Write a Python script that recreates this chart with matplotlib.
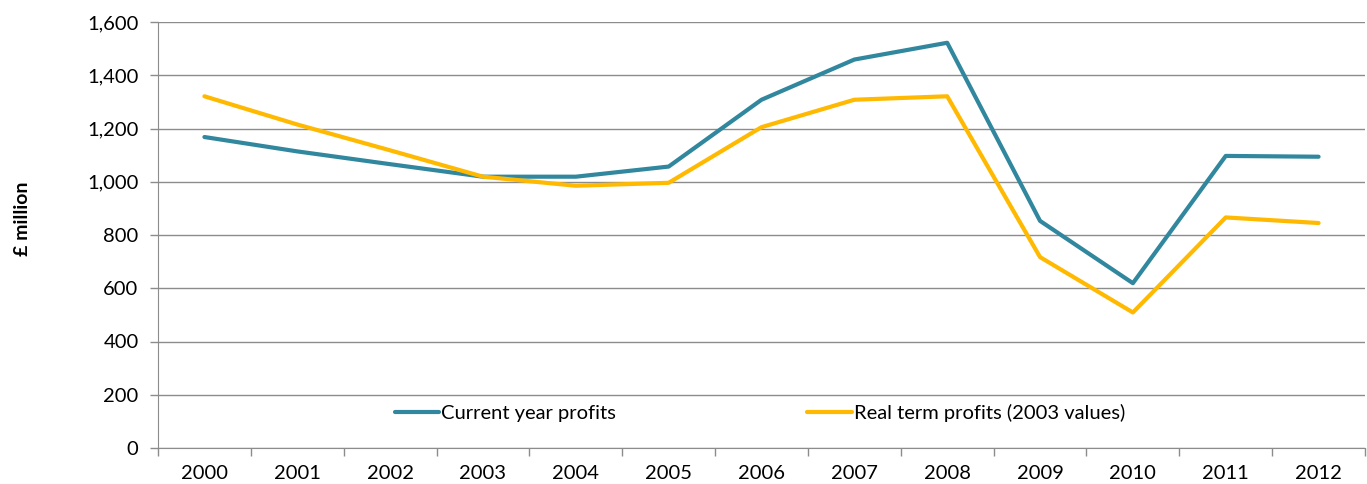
import matplotlib.pyplot as plt
from matplotlib.ticker import FuncFormatter

plt.rcParams['font.family'] = ['Lato', 'DejaVu Sans']

years = ['2000', '2001', '2002', '2003', '2004', '2005', '2006',
         '2007', '2008', '2009', '2010', '2011', '2012']
current_profits = [1168, 1114, 1066, 1019, 1019, 1057, 1308,
                   1459, 1522, 853, 619, 1097, 1094]
real_profits = [1321, 1215, 1118, 1019, 985, 996, 1205,
                1308, 1321, 717, 509, 866, 845]

teal = '#31879E'
gold = '#FFB900'
grey = '#8C8C8C'
fs = 14.5

fig = plt.figure(figsize=(13.67, 4.84), dpi=100)
ax = fig.add_axes([158 / 1367, 36 / 484, 1207 / 1367, 426 / 484])

x = range(len(years))
ax.plot(x, current_profits, color=teal, lw=3, label='Current year profits',
        solid_capstyle='round', zorder=3)
ax.plot(x, real_profits, color=gold, lw=3, label='Real term profits (2003 values)',
        solid_capstyle='round', zorder=3)

# y axis
ax.set_ylim(0, 1600)
ax.set_yticks(range(0, 1601, 200))
ax.yaxis.set_major_formatter(FuncFormatter(lambda v, p: f'{int(v):,}'))
ax.yaxis.grid(True, color=grey, lw=1)
ax.set_axisbelow(True)

# x axis: labels between tick marks, like a category axis
ax.set_xlim(-0.5, len(years) - 0.5)
ax.set_xticks([i - 0.5 for i in range(len(years) + 1)])
ax.set_xticklabels([])
ax.set_xticks(list(x), minor=True)
ax.set_xticklabels(years, minor=True)
ax.tick_params(axis='x', which='major', length=6, color=grey, width=1)
ax.tick_params(axis='x', which='minor', length=0, pad=12, labelsize=fs)
ax.tick_params(axis='y', length=6, color=grey, width=1, labelsize=fs, pad=8)

for side in ['top', 'right']:
    ax.spines[side].set_visible(False)
for side in ['left', 'bottom']:
    ax.spines[side].set_color(grey)

fig.text(22 / 1367, (484 - 219) / 484, '£ million', rotation=90,
         fontsize=fs - 0.5, fontweight='bold', ha='center', va='center')

ax.legend(loc='center', bbox_to_anchor=(760 / 1367, (484 - 413) / 484),
          bbox_transform=fig.transFigure, ncol=2, frameon=False,
          fontsize=fs, columnspacing=9.5, handlelength=2.2, handletextpad=0.1)

fig.savefig('out.png', dpi=100)
